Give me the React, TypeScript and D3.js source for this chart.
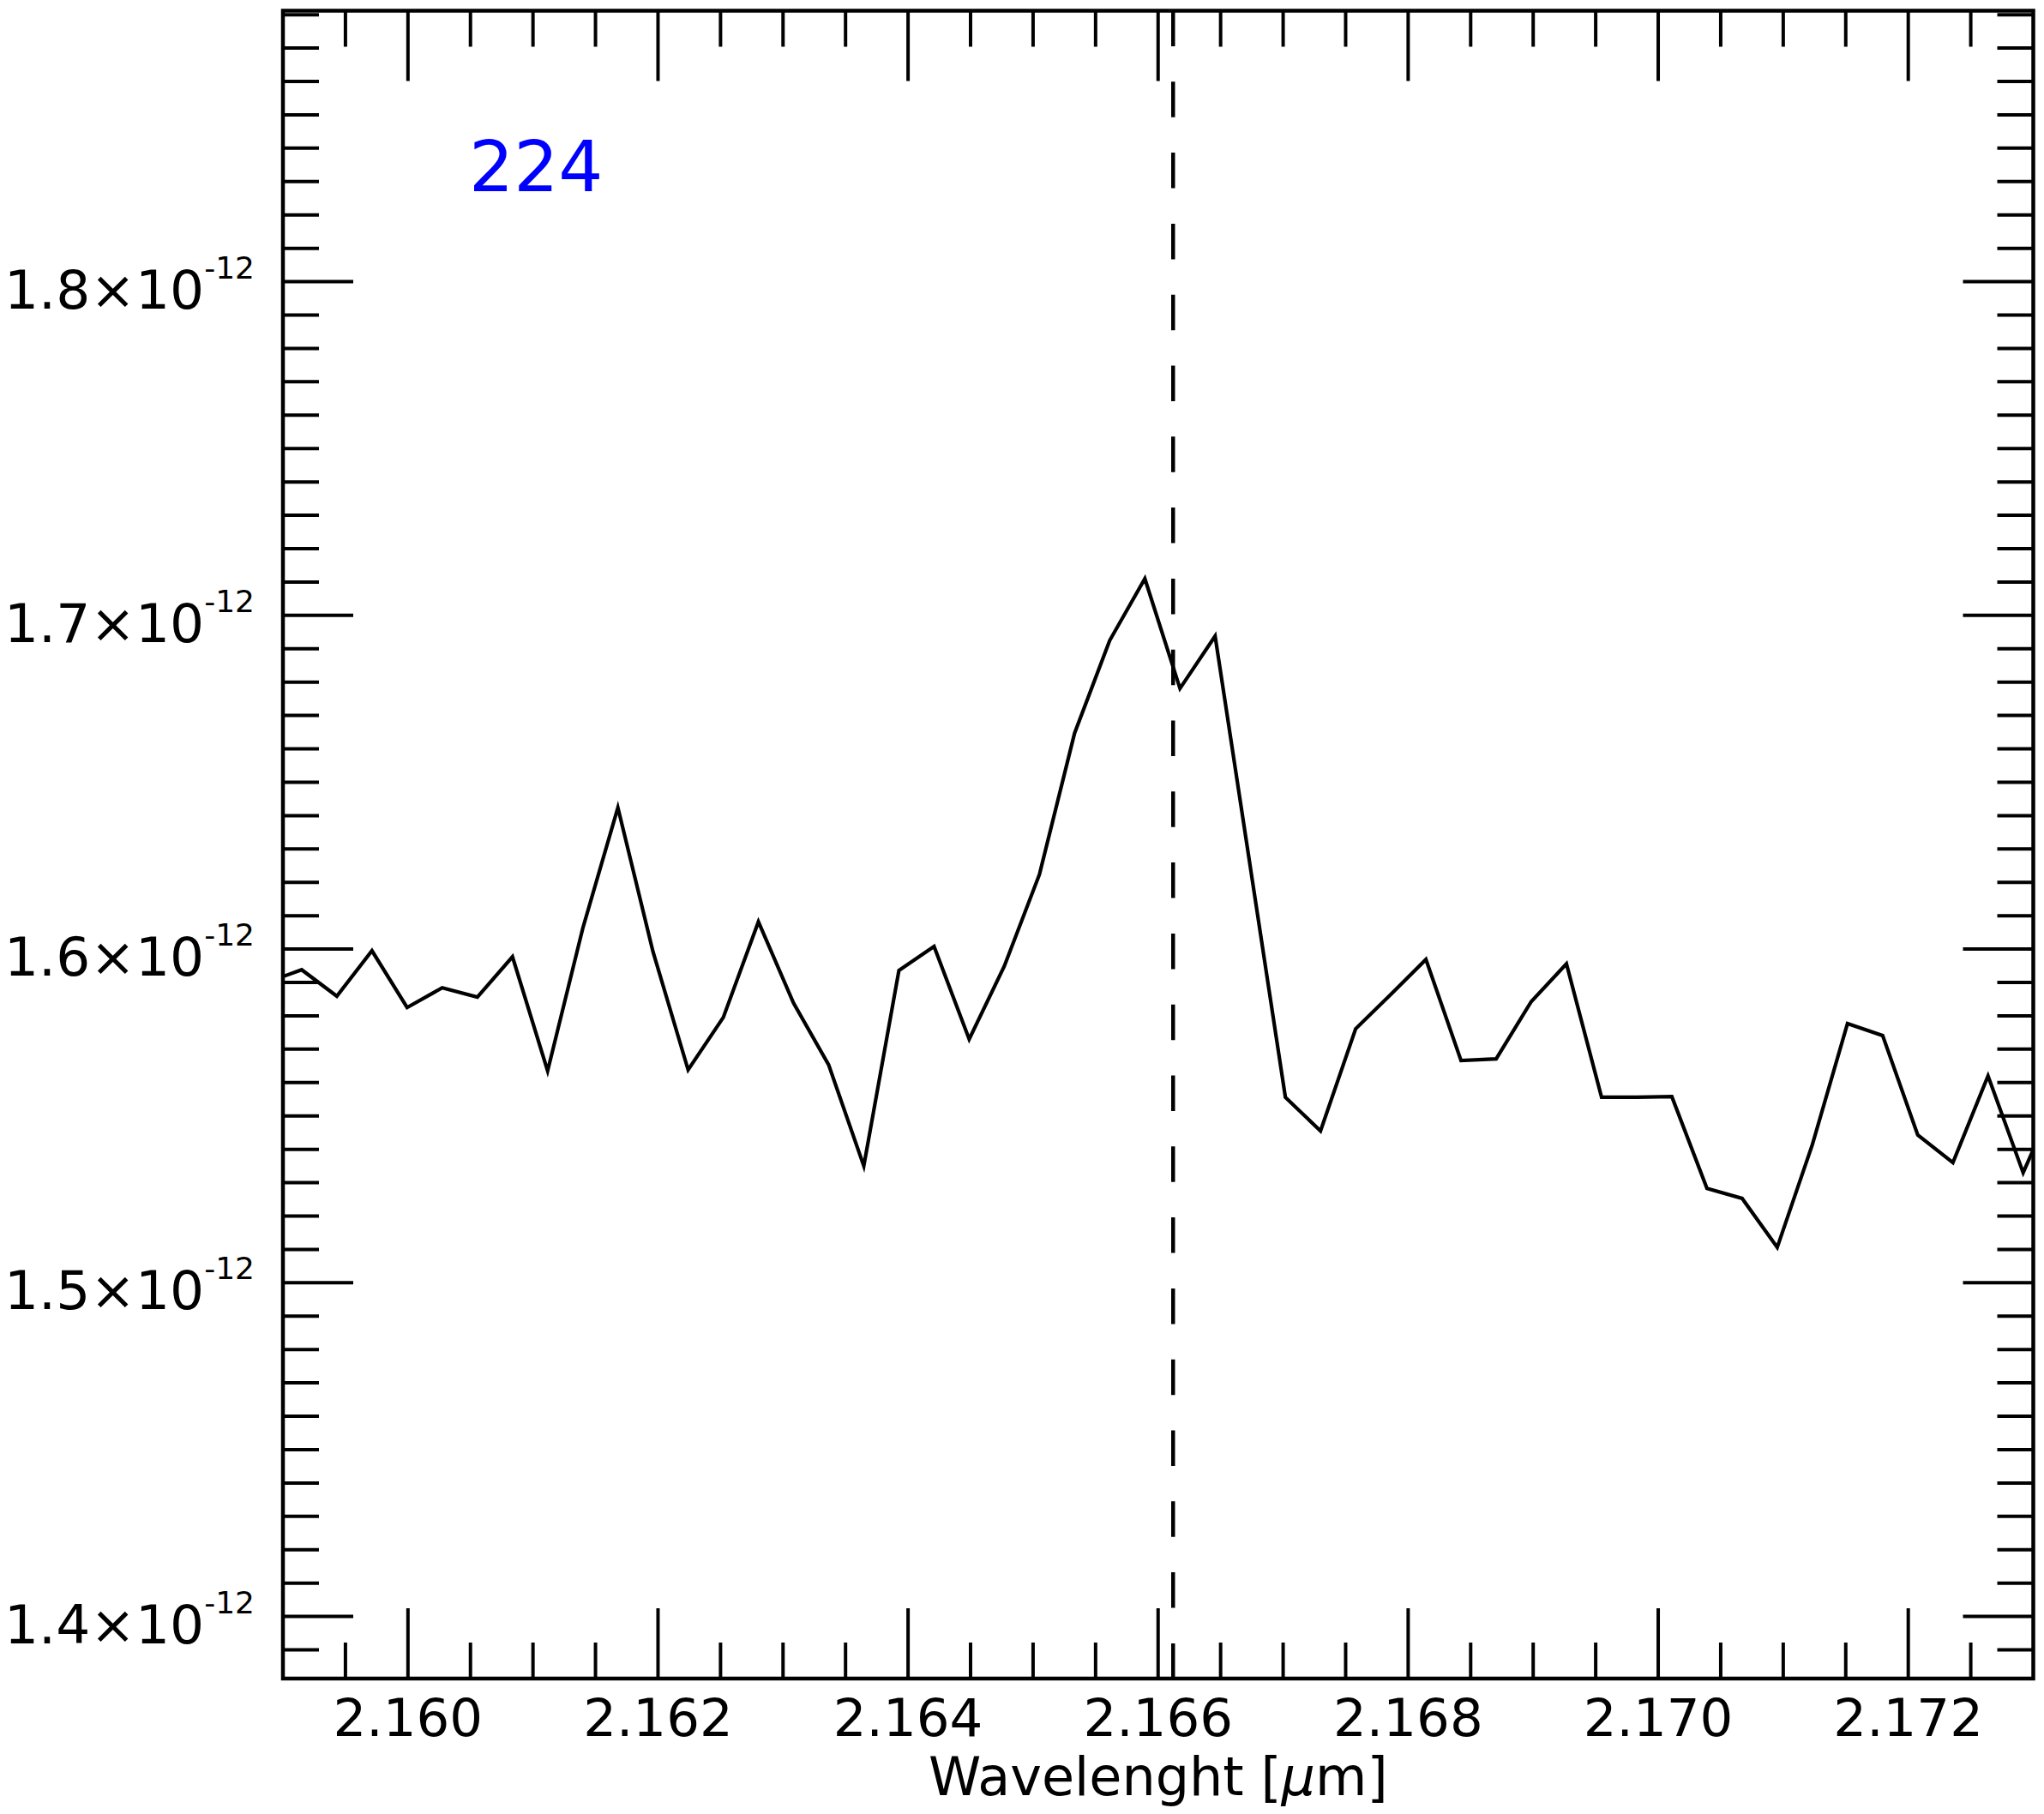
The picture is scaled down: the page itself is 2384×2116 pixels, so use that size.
import React, { useEffect, useRef } from 'react';
import * as d3 from 'd3';

// spectrum around Br-gamma, region 224
// wavelength in micron, flux in units of 1e-12
const wavelength = [
  2.158869, 2.15915, 2.159431, 2.159712, 2.159993, 2.160274, 2.160555, 2.160836,
  2.161117, 2.161398, 2.161679, 2.16196, 2.162241, 2.162522, 2.162803, 2.163084,
  2.163365, 2.163646, 2.163927, 2.164208, 2.164489, 2.16477, 2.165051, 2.165332,
  2.165613, 2.165894, 2.166175, 2.166456, 2.166737, 2.167018, 2.167299, 2.16758,
  2.167861, 2.168142, 2.168423, 2.168704, 2.168985, 2.169266, 2.169547, 2.169828,
  2.170109, 2.17039, 2.170671, 2.170952, 2.171233, 2.171514, 2.171795, 2.172076,
  2.172357, 2.172638, 2.172919, 2.1732,
];
const flux = [
  1.5900, 1.5938, 1.5859, 1.5995, 1.5825, 1.5884, 1.5856, 1.5977,
  1.5635, 1.6062, 1.6424, 1.5992, 1.5638, 1.5795, 1.6082, 1.5838,
  1.5653, 1.5350, 1.5936, 1.6008, 1.5730, 1.5949, 1.6224, 1.6647,
  1.6925, 1.7110, 1.6781, 1.6938, 1.6247, 1.5556, 1.5455, 1.5761,
  1.5864, 1.5969, 1.5666, 1.5671, 1.5843, 1.5956, 1.5556, 1.5556,
  1.5558, 1.5283, 1.5253, 1.5106, 1.5414, 1.5777, 1.5741, 1.5443,
  1.5360, 1.5620, 1.5330, 1.5569,
];

const xTickValues = [2.16, 2.162, 2.164, 2.166, 2.168, 2.17, 2.172];
const xTickLabels = ['2.160', '2.162', '2.164', '2.166', '2.168', '2.170', '2.172'];
const yTickValues = [1.4, 1.5, 1.6, 1.7, 1.8];
const yTickLabels = ['1.4', '1.5', '1.6', '1.7', '1.8'];
const yExponent = '-12';

const lineCenter = 2.16612;
const regionLabel = '224';
const xTitle = 'Wavelenght [';

const W = 2384;
const H = 2116;
const left = 330;
const right = 2371.5;
const top = 12.5;
const bottom = 1958;
const majorLen = 82;
const minorLen = 42;
const font = 'DejaVu Sans';

export default function App() {
  const ref = useRef<SVGSVGElement>(null);

  useEffect(() => {
    const svg = d3.select(ref.current);
    svg.selectAll('*').remove();

    const x = d3.scaleLinear().domain([2.159, 2.173]).range([left, right]);
    const y = d3.scaleLinear().domain([1.3814, 1.8812]).range([bottom, top]);

    svg.append('rect').attr('width', W).attr('height', H).attr('fill', '#fff');

    // clip for the spectrum
    svg.append('defs').append('clipPath').attr('id', 'plotclip')
      .append('rect')
      .attr('x', left).attr('y', top)
      .attr('width', right - left).attr('height', bottom - top);

    const line = d3.line<number>()
      .x((d, i) => x(wavelength[i]))
      .y(d => y(d));

    svg.append('path')
      .datum(flux)
      .attr('d', line)
      .attr('fill', 'none')
      .attr('stroke', '#000')
      .attr('stroke-width', 4.2)
      .attr('stroke-linejoin', 'miter')
      .attr('clip-path', 'url(#plotclip)');

    // dashed line at the line centre
    svg.append('line')
      .attr('x1', x(lineCenter)).attr('x2', x(lineCenter))
      .attr('y1', top).attr('y2', bottom)
      .attr('stroke', '#000')
      .attr('stroke-width', 4.5)
      .attr('stroke-dasharray', '41.5 41.3');

    // ticks, inside, on all four sides
    const ticks = svg.append('g').attr('stroke', '#000').attr('stroke-width', 4);
    const near = (a: number, list: number[]) => list.some(b => Math.abs(a - b) < 1e-7);

    const xMinor = x.ticks(28).filter(v => !near(v, xTickValues) && x(v) > left + 2 && x(v) < right - 2);
    const yMinor = y.ticks(50).filter(v => !near(v, yTickValues) && y(v) > top + 2 && y(v) < bottom - 2);

    const xAll = [
      ...xTickValues.map(v => ({ v, len: majorLen })),
      ...xMinor.map(v => ({ v, len: minorLen })),
    ];
    const yAll = [
      ...yTickValues.map(v => ({ v, len: majorLen })),
      ...yMinor.map(v => ({ v, len: minorLen })),
    ];

    ticks.selectAll('.xb').data(xAll).enter().append('line')
      .attr('x1', d => x(d.v)).attr('x2', d => x(d.v))
      .attr('y1', bottom).attr('y2', d => bottom - d.len);
    ticks.selectAll('.xt').data(xAll).enter().append('line')
      .attr('x1', d => x(d.v)).attr('x2', d => x(d.v))
      .attr('y1', top).attr('y2', d => top + d.len);
    ticks.selectAll('.yl').data(yAll).enter().append('line')
      .attr('y1', d => y(d.v)).attr('y2', d => y(d.v))
      .attr('x1', left).attr('x2', d => left + d.len);
    ticks.selectAll('.yr').data(yAll).enter().append('line')
      .attr('y1', d => y(d.v)).attr('y2', d => y(d.v))
      .attr('x1', right).attr('x2', d => right - d.len);

    // frame
    svg.append('rect')
      .attr('x', left).attr('y', top)
      .attr('width', right - left).attr('height', bottom - top)
      .attr('fill', 'none')
      .attr('stroke', '#000')
      .attr('stroke-width', 4.5);

    // x tick labels
    svg.append('g').selectAll('text')
      .data(xTickValues).enter().append('text')
      .attr('x', d => x(d))
      .attr('y', 2025)
      .attr('text-anchor', 'middle')
      .attr('font-family', font)
      .attr('font-size', 61)
      .text((d, i) => xTickLabels[i]);

    // y tick labels with exponent
    const yl = svg.append('g').selectAll('text')
      .data(yTickValues).enter().append('text')
      .attr('x', 297)
      .attr('y', d => y(d) + 31)
      .attr('text-anchor', 'end')
      .attr('font-family', font)
      .attr('font-size', 63);
    yl.append('tspan').text((d, i) => yTickLabels[i] + '\u00d710');
    yl.append('tspan').attr('dy', -35).attr('font-size', 36).text(yExponent);

    // axis title
    const t = svg.append('text')
      .attr('x', (left + right) / 2)
      .attr('y', 2094)
      .attr('text-anchor', 'middle')
      .attr('font-family', font)
      .attr('font-size', 62);
    t.append('tspan').text(xTitle);
    t.append('tspan').attr('font-style', 'italic').text('\u03bc');
    t.append('tspan').text('m]');

    // region number
    svg.append('text')
      .attr('x', 547)
      .attr('y', 223)
      .attr('font-family', font)
      .attr('font-size', 82)
      .attr('fill', '#0000ff')
      .text(regionLabel);
  }, []);

  return (
    <svg
      ref={ref}
      width={W}
      height={H}
      style={{ position: 'absolute', left: 0, top: 0, display: 'block' }}
    />
  );
}
